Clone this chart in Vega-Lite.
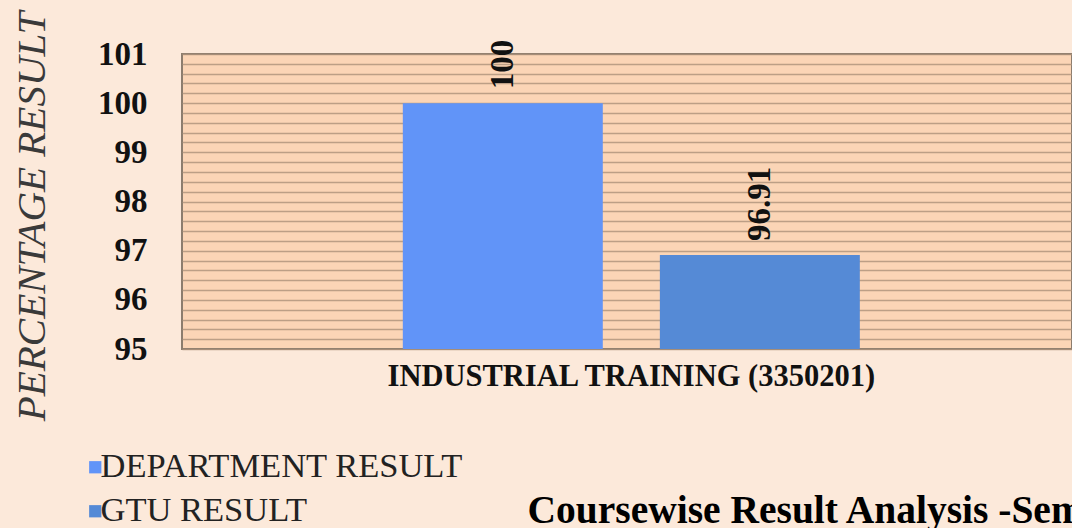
{
  "$schema": "https://vega.github.io/schema/vega-lite/v6.json",
  "autosize": "none",
  "width": 890,
  "height": 295,
  "padding": {"left": 182, "top": 54, "right": 0, "bottom": 179},
  "background": "#FCE9DA",
  "config": {
    "view": {"fill": "#FBD5B6", "stroke": "#8C7D6E", "strokeWidth": 2},
    "font": "Liberation Serif"
  },
  "data": {
    "values": [
      {"course": "INDUSTRIAL TRAINING (3350201)", "series": "DEPARTMENT RESULT", "result": 100},
      {"course": "INDUSTRIAL TRAINING (3350201)", "series": "GTU RESULT", "result": 96.91}
    ]
  },
  "encoding": {
    "x": {
      "field": "course",
      "type": "nominal",
      "scale": {"paddingInner": 0, "paddingOuter": 0.4737, "align": 0.51},
      "axis": {
        "title": "Coursewise Result Analysis -Sem",
        "titleFont": "Liberation Serif",
        "titleFontWeight": "bold",
        "titleFontSize": 39.5,
        "titleColor": "#000000",
        "titleAlign": "left",
        "titleBaseline": "alphabetic",
        "titleX": 345,
        "titleY": 173,
        "labelAngle": 0,
        "labelFont": "Liberation Serif",
        "labelFontSize": 30.5,
        "labelFontWeight": "bold",
        "labelColor": "#111111",
        "labelPadding": 12,
        "labelLimit": 800,
        "ticks": false,
        "domain": false,
        "grid": false
      }
    },
    "xOffset": {
      "field": "series",
      "type": "nominal",
      "scale": {"paddingInner": 0.222, "paddingOuter": 0}
    },
    "y": {
      "field": "result",
      "type": "quantitative",
      "scale": {"domain": [95, 101], "nice": false, "zero": false},
      "axis": {
        "title": "PERCENTAGE RESULT",
        "titleFont": "Liberation Serif",
        "titleFontStyle": "italic",
        "titleFontWeight": "normal",
        "titleFontSize": 41,
        "titleColor": "#3A3A3A",
        "titleAngle": 270,
        "titleAlign": "center",
        "titleBaseline": "middle",
        "titleX": -150,
        "titleY": 162,
        "values": [95, 95.2, 95.4, 95.6, 95.8, 96, 96.2, 96.4, 96.6, 96.8, 97, 97.2, 97.4, 97.6, 97.8, 98, 98.2, 98.4, 98.6, 98.8, 99, 99.2, 99.4, 99.6, 99.8, 100, 100.2, 100.4, 100.6, 100.8, 101],
        "labelExpr": "abs(datum.value - round(datum.value)) < 0.01 ? format(datum.value, '.0f') : ''",
        "labelFont": "Liberation Serif",
        "labelFontSize": 33,
        "labelFontWeight": "bold",
        "labelColor": "#111111",
        "labelPadding": 35,
        "ticks": false,
        "domain": false,
        "grid": true,
        "gridColor": "#AD917A",
        "gridWidth": 1.6,
        "gridOpacity": 0.8
      }
    }
  },
  "layer": [
    {
      "mark": {"type": "bar"},
      "encoding": {
        "y2": {"datum": 95},
        "color": {
          "field": "series",
          "type": "nominal",
          "scale": {"domain": ["DEPARTMENT RESULT", "GTU RESULT"], "range": ["#6194F8", "#558AD6"]},
          "legend": {
            "orient": "none",
            "legendX": -104,
            "legendY": 396,
            "title": null,
            "symbolType": "square",
            "symbolSize": 150,
            "symbolStrokeWidth": 0,
            "labelFont": "Liberation Serif",
            "labelFontSize": 34.5,
            "labelColor": "#222222",
            "labelOffset": -12,
            "labelLimit": 600,
            "rowPadding": 9,
            "padding": 0
          }
        }
      }
    },
    {
      "mark": {
        "type": "text",
        "angle": 270,
        "align": "left",
        "baseline": "middle",
        "dx": 14,
        "font": "Liberation Serif",
        "fontWeight": "bold",
        "fontSize": 33,
        "color": "#111111"
      },
      "encoding": {
        "text": {"field": "result", "type": "quantitative"}
      }
    }
  ]
}
